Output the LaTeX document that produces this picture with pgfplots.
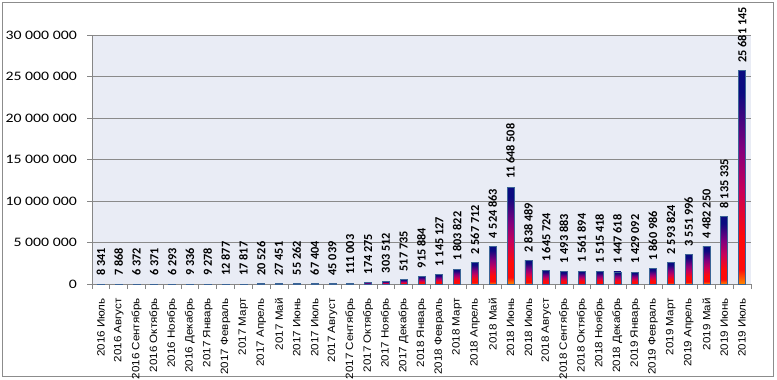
\documentclass[border=0pt]{standalone}
\usepackage{fontspec}
\setmainfont{Liberation Sans}
\newfontfamily\calfont{Carlito}
\newfontfamily\calwide[FakeStretch=1.22]{Carlito}
\newfontfamily\arialwide[FakeStretch=1.1]{Liberation Sans}
\usepackage{pgfplots}
\usepackage{pgfplotstable}
\pgfplotsset{compat=1.18}

\definecolor{plotbg}{HTML}{E9ECF5}
\definecolor{gridgray}{HTML}{8A8A8A}
\definecolor{axisgray}{HTML}{868686}
\definecolor{bordergray}{HTML}{8C8C8C}
\definecolor{barborder}{HTML}{3B6496}
\definecolor{fireorange}{HTML}{FF8A00}
\definecolor{firered}{HTML}{FF0A0A}
\definecolor{firecrim}{HTML}{C8005A}
\definecolor{firepurp}{HTML}{80007E}
\definecolor{firenavy}{HTML}{0A0A80}

\pgfdeclareverticalshading{barfire}{100bp}{color(0bp)=(fireorange); color(25bp)=(fireorange); color(28.5bp)=(firered); color(36bp)=(firered); color(47bp)=(firecrim); color(57bp)=(firepurp); color(70bp)=(firenavy); color(100bp)=(firenavy)}

\pgfplotstableread[col sep=semicolon]{
x;y;name;lab
0;8341;2016 Июль;8 341
1;7868;2016 Август;7 868
2;6372;2016 Сентябрь;6 372
3;6371;2016 Октябрь;6 371
4;6293;2016 Ноябрь;6 293
5;9336;2016 Декабрь;9 336
6;9278;2017 Январь;9 278
7;12877;2017 Февраль;12 877
8;17817;2017 Март;17 817
9;20526;2017 Апрель;20 526
10;27451;2017 Май;27 451
11;55262;2017 Июнь;55 262
12;67404;2017 Июль;67 404
13;45039;2017 Август;45 039
14;111003;2017 Сентябрь;111 003
15;174275;2017 Октябрь;174 275
16;303512;2017 Ноябрь;303 512
17;517735;2017 Декабрь;517 735
18;915884;2018 Январь;915 884
19;1145127;2018 Февраль;1 145 127
20;1803822;2018 Март;1 803 822
21;2567712;2018 Апрель;2 567 712
22;4524863;2018 Май;4 524 863
23;11648508;2018 Июнь;11 648 508
24;2838489;2018 Июль;2 838 489
25;1645724;2018 Август;1 645 724
26;1493883;2018 Сентябрь;1 493 883
27;1561894;2018 Октябрь;1 561 894
28;1515418;2018 Ноябрь;1 515 418
29;1447618;2018 Декабрь;1 447 618
30;1429092;2019 Январь;1 429 092
31;1860986;2019 Февраль;1 860 986
32;2593824;2019 Март;2 593 824
33;3551996;2019 Апрель;3 551 996
34;4482250;2019 Май;4 482 250
35;8135335;2019 Июнь;8 135 335
36;25681145;2019 Июль;25 681 145
}\data

\begin{document}
\begin{tikzpicture}[x=1bp,y=1bp]
\useasboundingbox (0,0) rectangle (777,379);
\draw[color=bordergray, line width=0.8bp] (2.5,2.5) rectangle (773.5,376.5);
\begin{axis}[
  at={(92bp,95bp)}, anchor=south west,
  scale only axis, width=659bp, height=249bp,
  xmin=-0.5, xmax=36.5, ymin=0, ymax=30000000,
  axis background/.style={fill=plotbg},
  axis lines*=left,
  axis line style={color=axisgray, line width=0.8bp},
  ymajorgrids, grid style={color=gridgray, line width=0.9bp},
  ytick={0,5000000,10000000,15000000,20000000,25000000,30000000},
  yticklabels={0,5 000 000,10 000 000,15 000 000,20 000 000,25 000 000,30 000 000},
  scaled y ticks=false,
  xtick={0,1,...,36},
  xticklabels from table={\data}{name},
  minor xtick={-0.5,0.5,...,36.5},
  tick align=outside,
  major tick length=5bp, minor tick length=5bp,
  major x tick style={draw=none},
  minor x tick style={color=axisgray, line width=0.8bp},
  major y tick style={color=axisgray, line width=0.8bp},
  yticklabel style={font=\calwide\fontsize{13}{13}\selectfont, anchor=east, inner xsep=0bp, xshift=-10bp},
  xticklabel style={font=\arialwide\fontsize{10.6}{10.6}\selectfont, rotate=90, anchor=east, inner xsep=0bp, inner ysep=0bp},
  xticklabel shift=9bp,
  clip=false,
]
\pgfplotsinvokeforeach{0,...,36}{
\addplot[ybar, bar width=7bp, bar shift=0pt, draw=barborder, line width=0.7bp, shade, shading=barfire,
  restrict x to domain=#1:#1,
  nodes near coords, point meta=explicit symbolic,
  every node near coord/.append style={font=\calfont\bfseries\fontsize{12.3}{12.3}\selectfont, rotate=90, anchor=west, inner xsep=8bp, inner ysep=0bp, text=black}]
  table[x=x, y=y, meta=lab] {\data};
}
\end{axis}
\end{tikzpicture}
\end{document}
